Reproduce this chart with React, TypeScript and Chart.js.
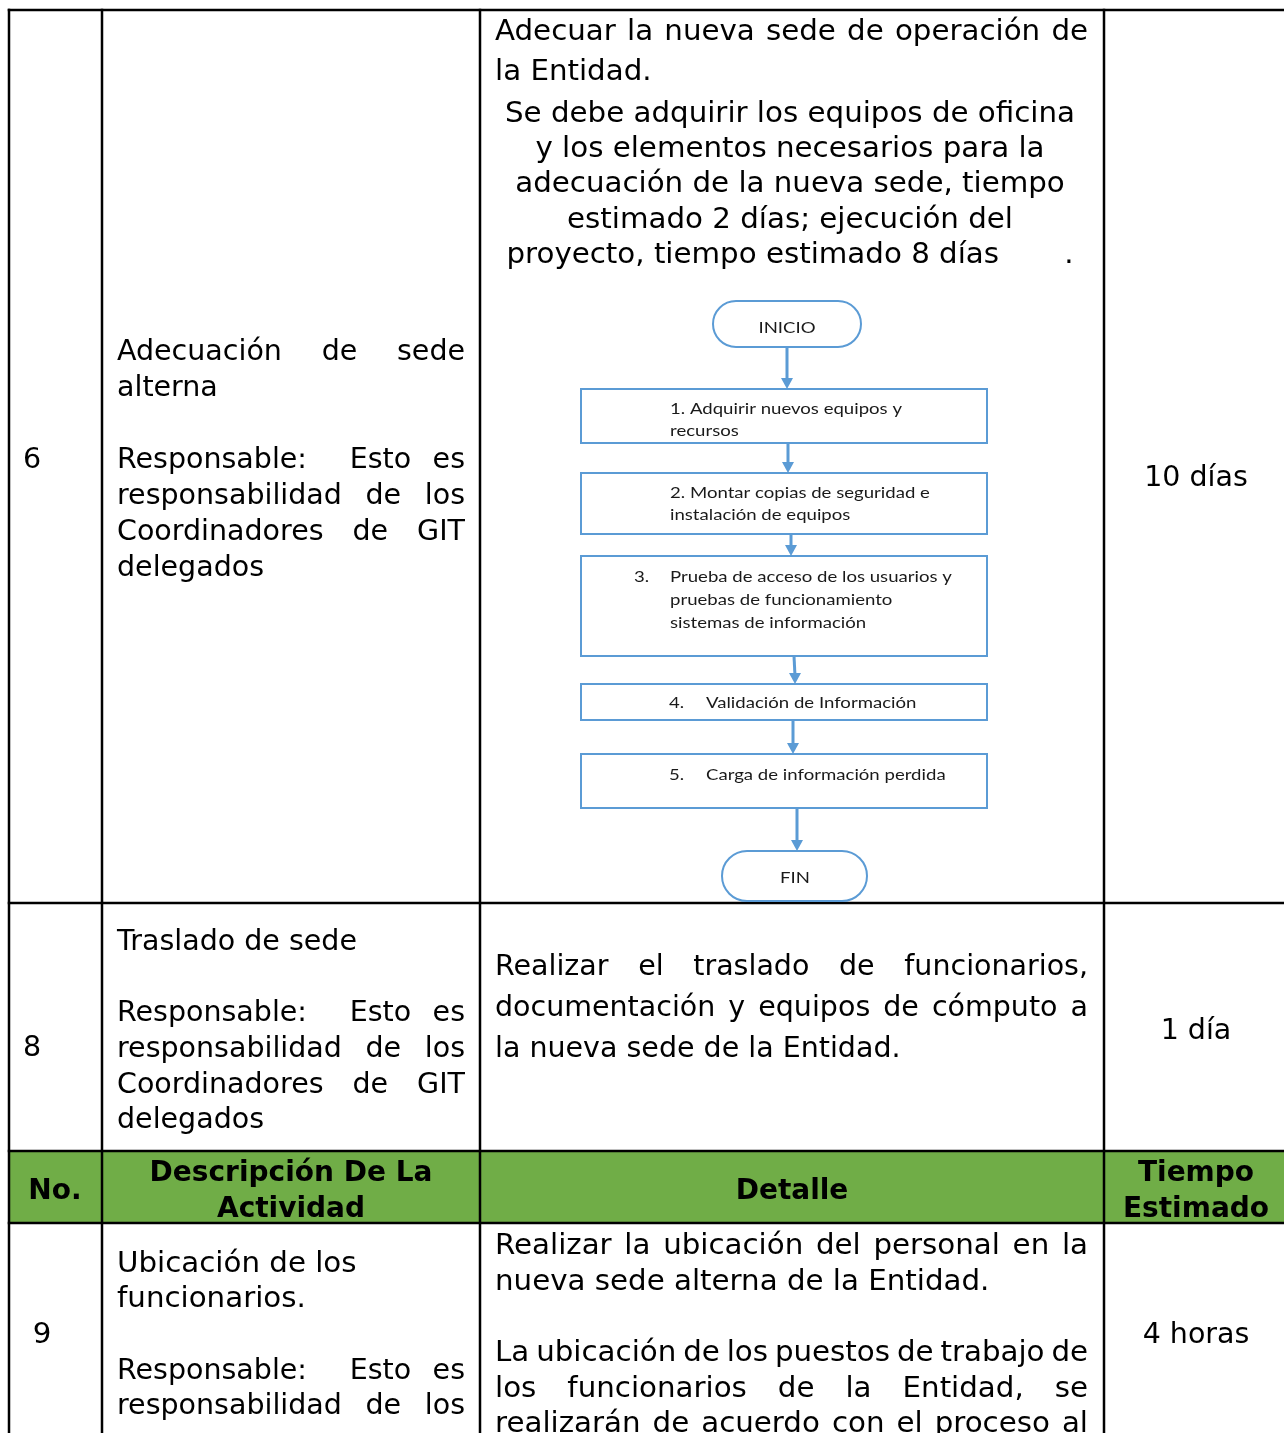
import React, { useEffect, useRef } from "react";
import { Chart, registerables } from "chart.js";
Chart.register(...registerables);

const PAGE_W = 1284;
const PAGE_H = 1433;

// ---------- content ----------
const headerLabels = [["No."], ["Descripción De La", "Actividad"], ["Detalle"], ["Tiempo", "Estimado"]];
const activityNumbers = ["6", "8", "9"];
const activityTitles = [["Adecuación de sede", "alterna"], ["Traslado de sede"], ["Ubicación de los", "funcionarios."]];
const responsableLines = ["Responsable:  Esto es", "responsabilidad de los", "Coordinadores de GIT", "delegados"];
const detailIntro6 = ["Adecuar la nueva sede de operación de", "la Entidad."];
const detailBody6 = [
  "Se debe adquirir los equipos de oficina",
  "y los elementos necesarios para la",
  "adecuación de la nueva sede, tiempo",
  "estimado 2 días; ejecución del",
  "proyecto, tiempo estimado 8 días       .",
];
const detail8 = ["Realizar el traslado de funcionarios,", "documentación y equipos de cómputo a", "la nueva sede de la Entidad."];
const detailIntro9 = ["Realizar la ubicación del personal en la", "nueva sede alterna de la Entidad."];
const detailBody9 = ["La ubicación de los puestos de trabajo de", "los funcionarios de la Entidad, se", "realizarán de acuerdo con el proceso al"];
const estimatedTimes = ["10 días", "1 día", "4 horas"];
const flowTerminals = ["INICIO", "FIN"];
const flowStepNumbers = ["1.", "2.", "3.", "4.", "5."];
const flowStepLines = [
  ["Adquirir nuevos equipos y", "recursos"],
  ["Montar copias de seguridad e", "instalación de equipos"],
  ["Prueba de acceso de los usuarios y", "pruebas de funcionamiento", "sistemas de información"],
  ["Validación de Información"],
  ["Carga de información perdida"],
];

// ---------- layout ----------
const COLS = [9, 102, 480, 1104, 1284];
const ROWS = [10, 903, 1151, 1223, 1433];
const TXT_L = [117, 495];
const TXT_R = [465, 1088];
const TEXT_DY = 3;
const FLOW_DY = 1;
const FLOW_BOXES = [
  { x1: 581, x2: 987, y1: 389, y2: 443 },
  { x1: 581, x2: 987, y1: 473, y2: 534 },
  { x1: 581, x2: 987, y1: 556, y2: 656 },
  { x1: 581, x2: 987, y1: 684, y2: 720 },
  { x1: 581, x2: 987, y1: 754, y2: 808 },
];
const FLOW_TERMS = [
  { x1: 713, x2: 861, y1: 301, y2: 347 },
  { x1: 722, x2: 867, y1: 851, y2: 901 },
];
const FLOW_ARROWS = [
  [787, 347, 787, 389],
  [788, 443, 788, 473],
  [791, 534, 791, 556],
  [794, 656, 795, 684],
  [793, 720, 793, 754],
  [797, 808, 797, 851],
];
const FLOW_COLOR = "#5B9BD5";
const GREEN = "#70AD47";

type Kind = "v" | "t" | "b" | "f";
type Item = { t: string; x: number; y: number; x2?: number; align: "left" | "center" | "justify"; kind: Kind };

function buildItems(): Item[] {
  const it: Item[] = [];
  it.push({ t: headerLabels[0][0], x: 55, y: 1189, align: "center", kind: "b" });
  it.push({ t: headerLabels[1][0], x: 291, y: 1171, align: "center", kind: "b" });
  it.push({ t: headerLabels[1][1], x: 291, y: 1207, align: "center", kind: "b" });
  it.push({ t: headerLabels[2][0], x: 792, y: 1189, align: "center", kind: "b" });
  it.push({ t: headerLabels[3][0], x: 1196, y: 1171, align: "center", kind: "b" });
  it.push({ t: headerLabels[3][1], x: 1196, y: 1207, align: "center", kind: "b" });
  it.push({ t: activityNumbers[0], x: 32, y: 458, align: "center", kind: "v" });
  it.push({ t: activityNumbers[1], x: 32, y: 1046, align: "center", kind: "v" });
  it.push({ t: activityNumbers[2], x: 42, y: 1333, align: "center", kind: "t" });
  it.push({ t: activityTitles[0][0], x: TXT_L[0], x2: TXT_R[0], y: 350, align: "justify", kind: "v" });
  it.push({ t: activityTitles[0][1], x: TXT_L[0], y: 386, align: "left", kind: "v" });
  const r6 = [458, 494, 530, 566];
  responsableLines.forEach((t, i) =>
    it.push({ t, x: TXT_L[0], x2: TXT_R[0], y: r6[i], align: i < 3 ? "justify" : "left", kind: "v" })
  );
  it.push({ t: activityTitles[1][0], x: TXT_L[0], y: 940, align: "left", kind: "v" });
  const r8 = [1011, 1047, 1083, 1118];
  responsableLines.forEach((t, i) =>
    it.push({ t, x: TXT_L[0], x2: TXT_R[0], y: r8[i], align: i < 3 ? "justify" : "left", kind: "v" })
  );
  it.push({ t: activityTitles[2][0], x: TXT_L[0], y: 1262, align: "left", kind: "t" });
  it.push({ t: activityTitles[2][1], x: TXT_L[0], y: 1297, align: "left", kind: "t" });
  const r9 = [1369, 1404];
  r9.forEach((y, i) =>
    it.push({ t: responsableLines[i], x: TXT_L[0], x2: TXT_R[0], y, align: "justify", kind: "v" })
  );
  it.push({ t: detailIntro6[0], x: TXT_L[1], x2: TXT_R[1], y: 30, align: "justify", kind: "t" });
  it.push({ t: detailIntro6[1], x: TXT_L[1], y: 70, align: "left", kind: "t" });
  const b6 = [112, 147, 182, 218, 253];
  detailBody6.forEach((t, i) => it.push({ t, x: 790, y: b6[i], align: "center", kind: "t" }));
  const d8 = [965, 1006, 1047];
  detail8.forEach((t, i) =>
    it.push({ t, x: TXT_L[1], x2: TXT_R[1], y: d8[i], align: i < 2 ? "justify" : "left", kind: "v" })
  );
  it.push({ t: detailIntro9[0], x: TXT_L[1], x2: TXT_R[1], y: 1244, align: "justify", kind: "t" });
  it.push({ t: detailIntro9[1], x: TXT_L[1], y: 1280, align: "left", kind: "t" });
  const d9 = [1351, 1387, 1422];
  detailBody9.forEach((t, i) => it.push({ t, x: TXT_L[1], x2: TXT_R[1], y: d9[i], align: "justify", kind: "t" }));
  const tY = [476, 1029, 1333];
  estimatedTimes.forEach((t, i) => it.push({ t, x: 1196, y: tY[i], align: "center", kind: "v" }));
  it.push({ t: flowTerminals[0], x: 787, y: 327, align: "center", kind: "f" });
  it.push({ t: flowTerminals[1], x: 795, y: 877, align: "center", kind: "f" });
  it.push({ t: flowStepNumbers[0] + " " + flowStepLines[0][0], x: 670, y: 408, align: "left", kind: "f" });
  it.push({ t: flowStepLines[0][1], x: 670, y: 430, align: "left", kind: "f" });
  it.push({ t: flowStepNumbers[1] + " " + flowStepLines[1][0], x: 670, y: 492, align: "left", kind: "f" });
  it.push({ t: flowStepLines[1][1], x: 670, y: 514, align: "left", kind: "f" });
  it.push({ t: flowStepNumbers[2], x: 634, y: 576, align: "left", kind: "f" });
  [576, 599, 622].forEach((y, i) => it.push({ t: flowStepLines[2][i], x: 670, y, align: "left", kind: "f" }));
  it.push({ t: flowStepNumbers[3], x: 669, y: 702, align: "left", kind: "f" });
  it.push({ t: flowStepLines[3][0], x: 706, y: 702, align: "left", kind: "f" });
  it.push({ t: flowStepNumbers[4], x: 669, y: 774, align: "left", kind: "f" });
  it.push({ t: flowStepLines[4][0], x: 706, y: 774, align: "left", kind: "f" });
  return it;
}

const FONTS: Record<Kind, string> = {
  v: '28.5px "DejaVu Sans"',
  t: '28.5px "DejaVu Sans"',
  b: 'bold 28px "DejaVu Sans"',
  f: '15px Lato',
};

const tablePlugin = {
  id: "tablePlugin",
  beforeDatasetsDraw(chart: any) {
    const ctx = chart.ctx;
    const xs = chart.scales.x;
    const ys = chart.scales.y;
    const x1 = xs.getPixelForValue(COLS[0]);
    const x2 = xs.getPixelForValue(COLS[4]);
    const y1 = ys.getPixelForValue(ROWS[2]);
    const y2 = ys.getPixelForValue(ROWS[3]);
    ctx.save();
    ctx.fillStyle = GREEN;
    ctx.fillRect(x1, y1, x2 - x1, y2 - y1);
    ctx.restore();
  },
  afterDatasetsDraw(chart: any) {
    const ctx = chart.ctx;
    const xs = chart.scales.x;
    const ys = chart.scales.y;
    const X = (v: number) => xs.getPixelForValue(v);
    const Y = (v: number) => ys.getPixelForValue(v);
    ctx.save();
    FLOW_TERMS.forEach((b) => {
      const x = X(b.x1), y = Y(b.y1), w = X(b.x2) - x, h = Y(b.y2) - y;
      ctx.beginPath();
      ctx.roundRect(x, y, w, h, h / 2);
      ctx.fillStyle = "#fff";
      ctx.fill();
      ctx.lineWidth = 2;
      ctx.strokeStyle = FLOW_COLOR;
      ctx.stroke();
    });
    ctx.fillStyle = FLOW_COLOR;
    FLOW_ARROWS.forEach((a) => {
      const tx = X(a[2]), ty = Y(a[3]);
      ctx.beginPath();
      ctx.moveTo(tx, ty);
      ctx.lineTo(tx - 6, ty - 11);
      ctx.lineTo(tx + 6, ty - 11);
      ctx.closePath();
      ctx.fill();
    });
    ctx.font = FONTS.t;
    const sxT = 570 / ctx.measureText(detailBody6[0]).width;
    ctx.font = FONTS.f;
    const sxF = 232 / ctx.measureText(flowStepNumbers[0] + " " + flowStepLines[0][0]).width;
    const sxOf = (k: Kind) => (k === "t" ? sxT : k === "f" ? sxF : 1);

    ctx.textBaseline = "middle";
    buildItems().forEach((item) => {
      ctx.font = FONTS[item.kind];
      ctx.fillStyle = item.kind === "f" ? "#1a1a1a" : "#000";
      const sx = sxOf(item.kind);
      const px = X(item.x);
      const py = Y(item.y + (item.kind === "f" ? FLOW_DY : TEXT_DY));
      if (item.align === "justify" && item.x2 !== undefined) {
        const parts = item.t.split(/(\s+)/);
        const words = parts.filter((p, i) => i % 2 === 0);
        const spaces = parts.filter((p, i) => i % 2 === 1).map((s) => s.length);
        const ww = words.map((w) => ctx.measureText(w).width * sx);
        const totalSpaces = spaces.reduce((a, b) => a + b, 0);
        const extra = totalSpaces > 0 ? (X(item.x2) - px - ww.reduce((a, b) => a + b, 0)) / totalSpaces : 0;
        let cx = px;
        ctx.textAlign = "left";
        words.forEach((w, i) => {
          ctx.save();
          ctx.translate(cx, py);
          ctx.scale(sx, 1);
          ctx.fillText(w, 0, 0);
          ctx.restore();
          cx += ww[i] + (i < spaces.length ? spaces[i] * extra : 0);
        });
      } else {
        ctx.textAlign = item.align === "center" ? "center" : "left";
        ctx.save();
        ctx.translate(px, py);
        ctx.scale(sx, 1);
        ctx.fillText(item.t, 0, 0);
        ctx.restore();
      }
    });
    ctx.restore();
  },
};

function buildDatasets() {
  const ds: any[] = [];
  const line = (pts: { x: number; y: number }[], color: string, width: number) => ({
    data: pts,
    showLine: true,
    borderColor: color,
    borderWidth: width,
    pointRadius: 0,
    borderCapStyle: "square",
    borderJoinStyle: "miter",
    fill: false,
    tension: 0,
  });
  COLS.slice(0, 4).forEach((x) => ds.push(line([{ x, y: ROWS[0] }, { x, y: ROWS[4] }], "#000", 2.5)));
  ROWS.slice(0, 4).forEach((y) => ds.push(line([{ x: COLS[0], y }, { x: COLS[4], y }], "#000", 2.5)));
  FLOW_BOXES.forEach((b) =>
    ds.push(
      line(
        [
          { x: b.x1, y: b.y1 },
          { x: b.x2, y: b.y1 },
          { x: b.x2, y: b.y2 },
          { x: b.x1, y: b.y2 },
          { x: b.x1, y: b.y1 },
        ],
        FLOW_COLOR,
        2
      )
    )
  );
  FLOW_ARROWS.forEach((a) =>
    ds.push({ ...line([{ x: a[0], y: a[1] }, { x: a[2], y: a[3] - 8 }], FLOW_COLOR, 3), borderCapStyle: "butt" })
  );
  return ds;
}

export default function App() {
  const ref = useRef<HTMLCanvasElement | null>(null);
  useEffect(() => {
    if (!ref.current) return;
    const chart = new Chart(ref.current, {
      type: "scatter",
      data: { datasets: buildDatasets() },
      options: {
        animation: false,
        responsive: false,
        devicePixelRatio: 1,
        layout: { padding: 0 },
        events: [],
        plugins: { legend: { display: false }, tooltip: { enabled: false }, title: { display: false } },
        scales: {
          x: { type: "linear", min: 0, max: PAGE_W, display: false },
          y: { type: "linear", min: 0, max: PAGE_H, reverse: true, display: false },
        },
      },
      plugins: [tablePlugin],
    } as any);
    return () => chart.destroy();
  }, []);
  return (
    <div style={{ position: "absolute", left: 0, top: 0, width: PAGE_W, height: PAGE_H, background: "#fff" }}>
      <canvas ref={ref} width={PAGE_W} height={PAGE_H} style={{ display: "block" }} />
    </div>
  );
}
